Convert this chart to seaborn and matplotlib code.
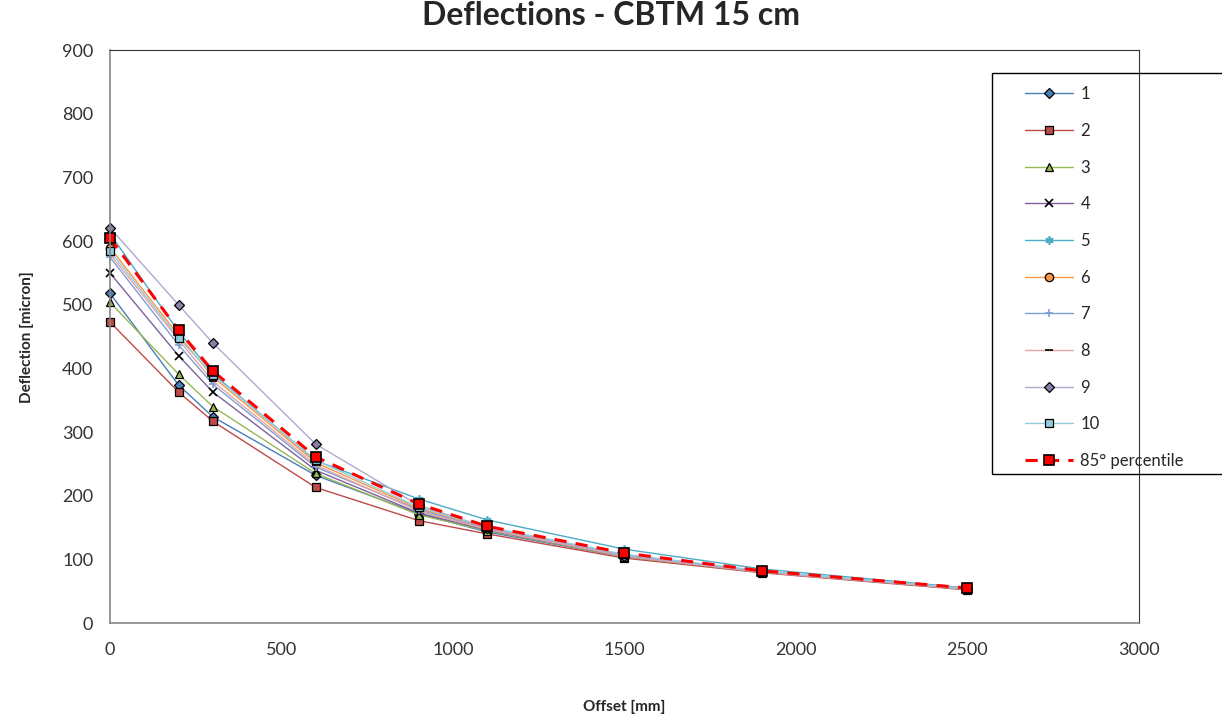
import numpy as np
import pandas as pd
import seaborn as sns
import matplotlib.pyplot as plt
from matplotlib.patches import Rectangle

# Offsets [mm] and deflections [micron]
offsets = [0, 200, 300, 600, 900, 1100, 1500, 1900, 2500]

s1 = [518, 374, 324, 232, 172, 143, 104, 80, 53]
s2 = [473, 363, 317, 213, 161, 140, 102, 79, 52]
s3 = [504, 391, 340, 235, 170, 145, 104, 80, 53]
s4 = [550, 420, 363, 240, 173, 146, 105, 80, 53]
s5 = [612, 458, 392, 255, 195, 162, 116, 85, 55]
s6 = [590, 452, 387, 252, 180, 150, 107, 81, 54]
s7 = [575, 437, 375, 245, 178, 148, 106, 81, 54]
s8 = [580, 445, 380, 248, 176, 147, 105, 80, 53]
s9 = [621, 500, 440, 281, 185, 150, 106, 81, 54]
s10 = [585, 448, 390, 256, 182, 151, 108, 82, 54]
p85 = [605, 460, 396, 261, 187, 152, 110, 82, 55]

series_names = ['1', '2', '3', '4', '5', '6', '7', '8', '9', '10']
series_values = [s1, s2, s3, s4, s5, s6, s7, s8, s9, s10]

# line colour, marker, marker face colour
styles = [
    ('#4a7ebb', 'D', '#4a7ebb'),
    ('#be4b48', 's', '#be4b48'),
    ('#98b954', '^', '#98b954'),
    ('#7d60a0', 'x', 'black'),
    ('#4bacc6', (6, 2, 0), '#4bacc6'),
    ('#f79646', 'o', '#f79646'),
    ('#7f9fd4', '+', '#7f9fd4'),
    ('#e6a5a4', '_', 'black'),
    ('#b3a7cf', 'D', '#8a80a8'),
    ('#93cddd', 's', '#93cddd'),
]

rows = []
for name, vals in zip(series_names, series_values):
    for x, y in zip(offsets, vals):
        rows.append({'Offset': x, 'Deflection': y, 'Series': name})
df = pd.DataFrame(rows)

sns.set_style('white')
plt.rcParams['font.family'] = ['Lato', 'DejaVu Sans']

fig = plt.figure(figsize=(12.22, 7.19), dpi=100)
ax = fig.add_axes([0.090, 0.1335, 0.842, 0.7965])

for name, (col, mk, face) in zip(series_names, styles):
    sub = df[df['Series'] == name]
    thin = mk in ('x', '+', '_') or isinstance(mk, tuple)
    edge = face if thin else 'black'
    sns.lineplot(data=sub, x='Offset', y='Deflection', ax=ax, color=col,
                 linewidth=1.0, marker=mk, markersize=5 if mk == 'D' else 6,
                 markerfacecolor=face, markeredgecolor=edge,
                 markeredgewidth=1.2 if thin else 0.9,
                 label=name, estimator=None, clip_on=False)

sns.lineplot(x=offsets, y=p85, ax=ax, color='#ff0000', linewidth=2.2,
             linestyle=(0, (4, 3)), marker='s', markersize=7,
             markerfacecolor='#ff0000', markeredgecolor='black',
             markeredgewidth=1.2, label='85° percentile', estimator=None,
             clip_on=False)

ax.set_xlim(0, 3000)
ax.set_ylim(0, 900)
ax.set_xticks(np.arange(0, 3001, 500))
ax.set_yticks(np.arange(0, 901, 100))
ax.tick_params(axis='both', direction='out', length=5, width=1,
               color='#868686', labelsize=13, labelcolor='#333333')
ax.tick_params(axis='x', pad=9)
ax.tick_params(axis='y', pad=7)
for side in ['left', 'bottom']:
    ax.spines[side].set_color('#868686')
    ax.spines[side].set_linewidth(1.2)
for side in ['top', 'right']:
    ax.spines[side].set_color('#333333')
    ax.spines[side].set_linewidth(0.8)

ax.set_xlabel('Offset [mm]', fontsize=11, fontweight='bold', labelpad=30)
ax.set_ylabel('Deflection [micron]', fontsize=11, fontweight='bold', labelpad=20)
fig.suptitle('Deflections - CBTM 15 cm', fontsize=23, fontweight='bold',
             y=0.998, x=0.5)

# legend: entries without frame, box drawn separately (runs off the right edge)
handles, labels = ax.get_legend_handles_labels()
if ax.get_legend():
    ax.get_legend().remove()
leg = fig.legend(handles, labels, loc='upper left',
                 bbox_to_anchor=(0.8385, 0.880), fontsize=12, frameon=False,
                 labelspacing=1.24, handlelength=2.9, handletextpad=0.45,
                 borderpad=0, borderaxespad=0)
fig.patches.append(Rectangle((0.8118, 0.3408), 0.25, 0.5577,
                             transform=fig.transFigure, fill=False,
                             edgecolor='black', linewidth=1.0))

fig.savefig('out.png', dpi=100)
